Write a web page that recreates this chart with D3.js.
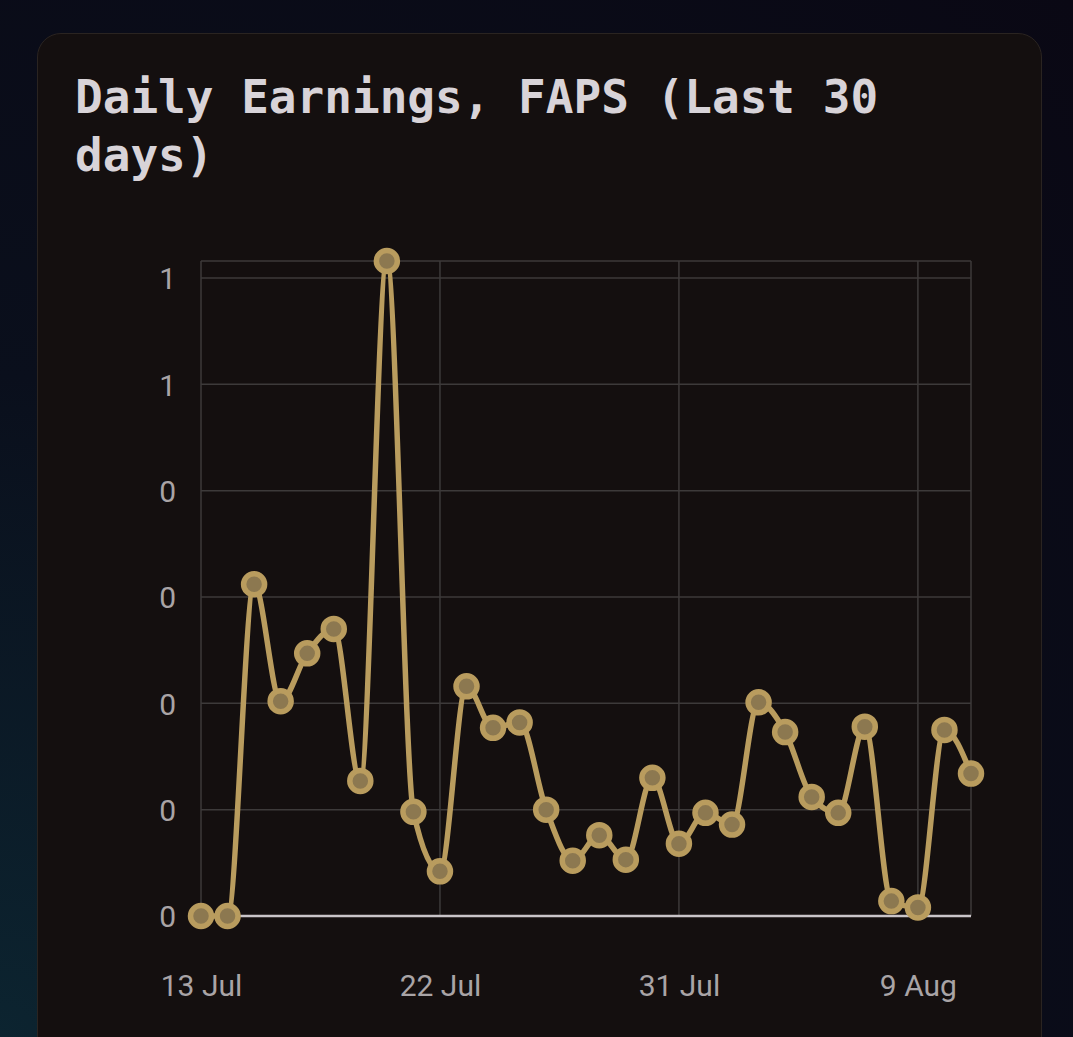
<!DOCTYPE html>
<html lang="en">
<head>
<meta charset="UTF-8">
<title>Daily Earnings</title>
<script src="https://cdn.jsdelivr.net/npm/d3@7"></script>
<style>
    html, body {
        margin: 0;
        padding: 0;
        width: 1073px;
        height: 1037px;
        overflow: hidden;
        background: radial-gradient(ellipse at 0% 100%, #0c2430 0%, #0a0f1c 45%, #0a0814 100%);
    }
    .card {
        position: absolute;
        left: 37px;
        top: 33px;
        width: 1003px;
        height: 1060px;
        background: #140f0f;
        border: 1px solid #2a2421;
        border-radius: 24px;
    }
    .title {
        position: absolute;
        left: 37px;
        top: 34px;
        width: 860px;
        margin: 0;
        font-family: "DejaVu Sans Mono", monospace;
        font-weight: bold;
        font-size: 46px;
        line-height: 58px;
        color: #d8d3d8;
    }
    svg {
        position: absolute;
        left: 0;
        top: 0;
    }
    .tick text {
        font-family: "Roboto", sans-serif;
        fill: #a9a4a6;
    }
</style>
</head>
<body>
<div class="card">
    <p class="title">Daily Earnings, FAPS (Last 30 days)</p>
</div>
<script>
    // daily values, 13 Jul .. 11 Aug
    var days = ["2023-07-13", "2023-07-14", "2023-07-15", "2023-07-16", "2023-07-17",
        "2023-07-18", "2023-07-19", "2023-07-20", "2023-07-21", "2023-07-22",
        "2023-07-23", "2023-07-24", "2023-07-25", "2023-07-26", "2023-07-27",
        "2023-07-28", "2023-07-29", "2023-07-30", "2023-07-31", "2023-08-01",
        "2023-08-02", "2023-08-03", "2023-08-04", "2023-08-05", "2023-08-06",
        "2023-08-07", "2023-08-08", "2023-08-09", "2023-08-10", "2023-08-11"]
    var earnings = [0, 0, 0.312, 0.202, 0.247, 0.270, 0.127, 0.616, 0.098, 0.042,
        0.216, 0.177, 0.182, 0.100, 0.052, 0.076, 0.053, 0.130, 0.068, 0.097,
        0.086, 0.201, 0.173, 0.112, 0.097, 0.178, 0.014, 0.008, 0.175, 0.134]
    var yTicks = [0, 0.1, 0.2, 0.3, 0.4, 0.5, 0.6]
    var yTickLabels = ["0", "0", "0", "0", "0", "1", "1"]
    var xTicks = ["2023-07-13", "2023-07-22", "2023-07-31", "2023-08-09"]

    var parse = d3.timeParse("%Y-%m-%d")
    var data = days.map(function(d, i) {
        return { date: parse(d), value: earnings[i] }
    })

    // plot box
    var pLeft = 201, pRight = 971, pTop = 261, pBottom = 916

    var svg = d3.select("body")
        .append("svg")
        .attr("width", 1073)
        .attr("height", 1037)

    var x = d3.scaleTime()
        .domain(d3.extent(data, function(d) { return d.date }))
        .range([pLeft, pRight])

    var y = d3.scaleLinear()
        .domain([0, d3.max(earnings)])
        .range([pBottom, pTop])

    // grid
    var grid = svg.append("g")
        .attr("stroke", "#3d3a3a")
        .attr("stroke-width", 1.5)
    grid.selectAll(".hl")
        .data(yTicks.concat([d3.max(earnings)]))
        .enter()
        .append("line")
        .attr("x1", pLeft)
        .attr("x2", pRight)
        .attr("y1", function(d) { return y(d) })
        .attr("y2", function(d) { return y(d) })
    grid.selectAll(".vl")
        .data(xTicks.map(parse).concat([x.domain()[1]]))
        .enter()
        .append("line")
        .attr("x1", function(d) { return x(d) })
        .attr("x2", function(d) { return x(d) })
        .attr("y1", pTop)
        .attr("y2", pBottom)

    // axes
    var yAxis = d3.axisLeft(y)
        .tickValues(yTicks)
        .tickSize(0)
        .tickPadding(25)
        .tickFormat(function(d, i) { return yTickLabels[i] })
    svg.append("g")
        .attr("transform", "translate(" + pLeft + ",0)")
        .call(yAxis)
        .call(function(g) { g.select(".domain").remove() })
        .selectAll("text")
        .attr("font-size", 30)
        .attr("dy", "0.36em")

    var xAxis = d3.axisBottom(x)
        .tickValues(xTicks.map(parse))
        .tickSize(0)
        .tickPadding(59)
        .tickFormat(d3.timeFormat("%-d %b"))
    svg.append("g")
        .attr("transform", "translate(0," + pBottom + ")")
        .call(xAxis)
        .call(function(g) { g.select(".domain").remove() })
        .selectAll("text")
        .attr("font-size", 30)

    // baseline
    svg.append("line")
        .attr("x1", pLeft)
        .attr("x2", pRight)
        .attr("y1", y(0))
        .attr("y2", y(0))
        .attr("stroke", "#c9c4c8")
        .attr("stroke-width", 2.5)

    var line = d3.line()
        .x(function(d) { return x(d.date) })
        .y(function(d) { return y(d.value) })
        .curve(d3.curveMonotoneX)

    svg.append("path")
        .datum(data)
        .attr("d", line)
        .attr("fill", "none")
        .attr("stroke", "#b99c5e")
        .attr("stroke-width", 5.5)
        .attr("stroke-linejoin", "round")

    svg.selectAll(".pt")
        .data(data)
        .enter()
        .append("circle")
        .attr("cx", function(d) { return x(d.date) })
        .attr("cy", function(d) { return y(d.value) })
        .attr("r", 10.5)
        .attr("fill", "#8c7850")
        .attr("stroke", "#b99c5e")
        .attr("stroke-width", 5.5)
</script>
</body>
</html>
